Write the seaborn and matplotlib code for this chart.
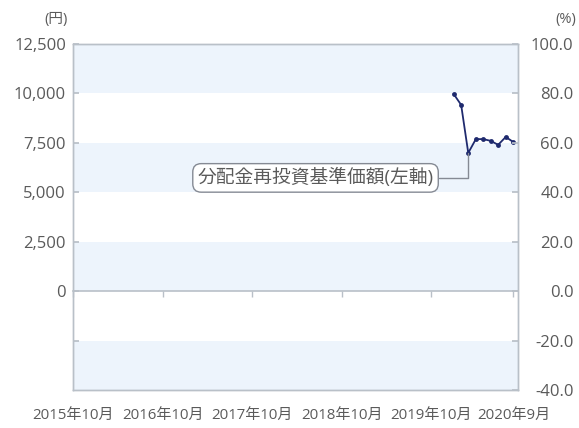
import matplotlib
matplotlib.use("Agg")
import matplotlib.pyplot as plt
from matplotlib.ticker import FuncFormatter, FixedLocator
import seaborn as sns
import pandas as pd

# ---- data ----
dates = ["2020-01-01", "2020-02-01", "2020-03-01", "2020-04-01", "2020-05-01",
         "2020-06-01", "2020-07-01", "2020-08-01", "2020-09-01"]
nav = [9980, 9420, 6990, 7690, 7690, 7600, 7400, 7800, 7540]
tick_dates = ["2015-10-01", "2016-10-01", "2017-10-01", "2018-10-01", "2019-10-01", "2020-09-01"]
tick_labels = ["2015年10月", "2016年10月", "2017年10月", "2018年10月", "2019年10月", "2020年9月"]
left_ticks = [-2500, 0, 2500, 5000, 7500, 10000, 12500]
right_ticks = [-40, -20, 0, 20, 40, 60, 80, 100]
band_edges = [(10000, 12500), (5000, 7500), (0, 2500), (-5000, -2500)]
label_text = "分配金再投資基準価額(左軸)"

sns.set_theme(style="white")
plt.rcParams['font.family'] = ['Open Sans', 'Noto Sans CJK JP', 'DejaVu Sans']

TXT = "#5a5a5a"
SPINE = "#b9c0c8"
BAND = "#edf4fc"
LINE = "#1f2a6e"
BOXEC = "#858a94"

df = pd.DataFrame({"date": pd.to_datetime(dates), "nav": nav})
tdates = pd.to_datetime(tick_dates)

fig = plt.figure(figsize=(5.79, 4.28), dpi=100)
ax = fig.add_axes([73/579, 1-390/428, (518-73)/579, (390-44)/428])

for lo, hi in band_edges:
    ax.axhspan(lo, hi, color=BAND, lw=0, zorder=0)

sns.lineplot(data=df, x="date", y="nav", ax=ax, color=LINE, lw=1.3,
             marker="o", markersize=3.5, markeredgewidth=0, zorder=5)

ax.set_ylim(-5000, 12500)
ax.set_xlim(pd.Timestamp("2015-10-01"), pd.Timestamp("2020-09-20"))
ax.yaxis.set_major_locator(FixedLocator(left_ticks))
ax.yaxis.set_major_formatter(FuncFormatter(lambda v, p: "" if v < 0 else f"{int(v):,}"))
ax.tick_params(axis="y", direction="in", length=4, color=SPINE, labelsize=12,
               labelcolor=TXT, pad=5)
ax.set_xticks(tdates)
ax.set_xticklabels(tick_labels)
ax.tick_params(axis="x", length=0, labelsize=10.8, labelcolor=TXT, pad=13)
ax.set_xlabel("")
ax.set_ylabel("")
for s in ax.spines.values():
    s.set_color(SPINE)
    s.set_linewidth(1.0)

# zero line with downward ticks
zero_pos = (0 - (-5000)) / 17500
sec = ax.secondary_xaxis(zero_pos)
sec.set_xticks(tdates)
sec.set_xticklabels([""] * len(tdates))
sec.tick_params(direction="out", length=4, color=SPINE, width=1.0)
sec.spines["bottom"].set_color(SPINE)
sec.spines["bottom"].set_linewidth(1.2)

ax2 = ax.twinx()
ax2.set_ylim(-40, 100)
ax2.yaxis.set_major_locator(FixedLocator(right_ticks))
ax2.yaxis.set_major_formatter(FuncFormatter(lambda v, p: f"{v:.1f}"))
ax2.tick_params(axis="y", direction="in", length=4, color=SPINE, labelsize=12,
                labelcolor=TXT, pad=40)
for lab in ax2.get_yticklabels():
    lab.set_horizontalalignment("right")
for s in ax2.spines.values():
    s.set_color(SPINE)
    s.set_linewidth(1.0)
ax2.grid(False)

fig.text(68/579, 1-20/428, "(円)", ha="right", va="center", fontsize=10.5, color=TXT)
fig.text(576/579, 1-20/428, "(%)", ha="right", va="center", fontsize=10.5, color=TXT)

# annotation
ax.annotate(label_text, xy=(df["date"].iloc[2], df["nav"].iloc[2]),
            xytext=(0.545, 0.613), textcoords="axes fraction",
            ha="center", va="center", fontsize=13.5, color=TXT,
            bbox=dict(boxstyle="round,pad=0.25,rounding_size=0.45", fc="white", ec=BOXEC, lw=1.0),
            arrowprops=dict(arrowstyle="-", color=BOXEC, lw=1.0,
                            connectionstyle="angle,angleA=0,angleB=90,rad=0",
                            shrinkA=0, shrinkB=0),
            zorder=6)

fig.savefig("out.png", dpi=100)
